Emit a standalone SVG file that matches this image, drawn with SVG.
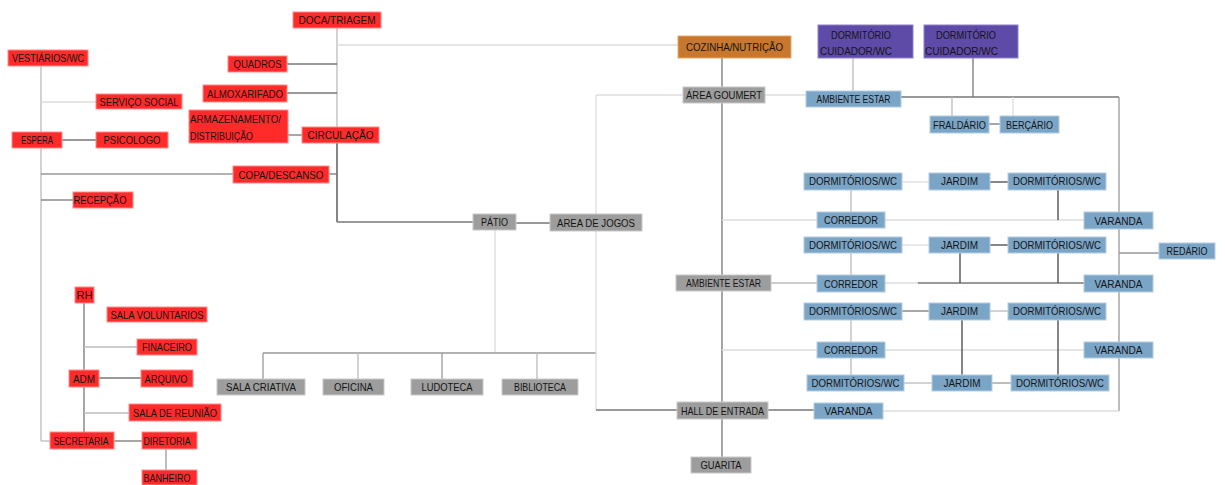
<svg xmlns="http://www.w3.org/2000/svg" width="1225" height="485" viewBox="0 0 1225 485">
<style>
text{font-family:"Liberation Sans",Arial,sans-serif;font-size:11px;fill:#141414;text-anchor:middle}
text.l{text-anchor:start}
.r{fill:#ff2b2b;stroke:#ff8c8c;stroke-width:1}
.g{fill:#9d9d9d;stroke:#c9c9c9;stroke-width:1}
.b{fill:#7ba5c7;stroke:#b3cde2;stroke-width:1}
.p{fill:#5e4ba8;stroke:#8e80cc;stroke-width:1}
.o{fill:#c8782e;stroke:#e6a868;stroke-width:1}
#connectors line{stroke-width:1.3;fill:none}
.k1{stroke:#444}
.k2{stroke:#777}
.k3{stroke:#999}
.k4{stroke:#bbb}
.k5{stroke:#dcdcdc}
</style>
<rect width="1225" height="485" fill="#ffffff"/>
<g id="connectors">
<line class="k4" x1="41" y1="66" x2="41" y2="441"/>
<line class="k4" x1="41" y1="441" x2="50" y2="441"/>
<line class="k5" x1="41" y1="102" x2="96" y2="102"/>
<line class="k2" x1="62" y1="140" x2="96" y2="140"/>
<line class="k3" x1="41" y1="174" x2="233" y2="174"/>
<line class="k2" x1="41" y1="200" x2="73" y2="200"/>
<line class="k2" x1="84" y1="303" x2="84" y2="432"/>
<line class="k4" x1="84" y1="347" x2="137" y2="347"/>
<line class="k2" x1="99" y1="378" x2="141" y2="378"/>
<line class="k4" x1="84" y1="413" x2="129" y2="413"/>
<line class="k2" x1="114" y1="441" x2="142" y2="441"/>
<line class="k3" x1="166" y1="449" x2="166" y2="470"/>
<line class="k4" x1="337" y1="28" x2="337" y2="127"/>
<line class="k1" x1="337" y1="143" x2="337" y2="222"/>
<line class="k5" x1="337" y1="45" x2="678" y2="45"/>
<line class="k2" x1="287" y1="64" x2="337" y2="64"/>
<line class="k2" x1="287" y1="93" x2="337" y2="93"/>
<line class="k2" x1="288" y1="135" x2="302" y2="135"/>
<line class="k2" x1="329" y1="174" x2="337" y2="174"/>
<line class="k2" x1="337" y1="222" x2="473" y2="222"/>
<line class="k2" x1="516" y1="223" x2="550" y2="223"/>
<line class="k5" x1="495" y1="230" x2="495" y2="353"/>
<line class="k3" x1="263" y1="353" x2="596" y2="353"/>
<line class="k3" x1="263" y1="353" x2="263" y2="379"/>
<line class="k4" x1="358" y1="353" x2="358" y2="379"/>
<line class="k3" x1="442" y1="353" x2="442" y2="379"/>
<line class="k4" x1="537" y1="353" x2="537" y2="379"/>
<line class="k5" x1="596" y1="95" x2="596" y2="410"/>
<line class="k5" x1="596" y1="95" x2="683" y2="95"/>
<line class="k2" x1="596" y1="410" x2="677" y2="410"/>
<line class="k2" x1="722" y1="58" x2="722" y2="457"/>
<line class="k5" x1="765" y1="95" x2="806" y2="95"/>
<line class="k4" x1="771" y1="283" x2="817" y2="283"/>
<line class="k5" x1="722" y1="220" x2="817" y2="220"/>
<line class="k5" x1="722" y1="350" x2="817" y2="350"/>
<line class="k2" x1="768" y1="410" x2="814" y2="410"/>
<line class="k4" x1="853" y1="58" x2="853" y2="91"/>
<line class="k2" x1="973" y1="58" x2="973" y2="97"/>
<line class="k2" x1="901" y1="97" x2="1119" y2="97"/>
<line class="k3" x1="1119" y1="97" x2="1119" y2="411"/>
<line class="k4" x1="952" y1="97" x2="952" y2="116"/>
<line class="k5" x1="1013" y1="97" x2="1013" y2="116"/>
<line class="k2" x1="989" y1="124" x2="1000" y2="124"/>
<line class="k5" x1="902" y1="182" x2="929" y2="182"/>
<line class="k1" x1="990" y1="182" x2="1008" y2="182"/>
<line class="k4" x1="851" y1="190" x2="851" y2="212"/>
<line class="k5" x1="885" y1="220" x2="1084" y2="220"/>
<line class="k1" x1="1058" y1="190" x2="1058" y2="220"/>
<line class="k5" x1="902" y1="245" x2="929" y2="245"/>
<line class="k1" x1="990" y1="245" x2="1008" y2="245"/>
<line class="k4" x1="851" y1="253" x2="851" y2="275"/>
<line class="k5" x1="885" y1="283" x2="918" y2="283"/>
<line class="k2" x1="918" y1="283" x2="1084" y2="283"/>
<line class="k1" x1="960" y1="253" x2="960" y2="283"/>
<line class="k1" x1="1058" y1="253" x2="1058" y2="283"/>
<line class="k3" x1="1119" y1="253" x2="1159" y2="253"/>
<line class="k2" x1="902" y1="311" x2="929" y2="311"/>
<line class="k4" x1="990" y1="311" x2="1008" y2="311"/>
<line class="k4" x1="851" y1="320" x2="851" y2="375"/>
<line class="k5" x1="885" y1="350" x2="1084" y2="350"/>
<line class="k1" x1="962" y1="320" x2="962" y2="375"/>
<line class="k1" x1="1058" y1="320" x2="1058" y2="375"/>
<line class="k4" x1="904" y1="383" x2="932" y2="383"/>
<line class="k3" x1="992" y1="383" x2="1011" y2="383"/>
<line class="k5" x1="883" y1="411" x2="1119" y2="411"/>
</g>
<g id="n-vestiarios"><rect class="r" x="8" y="50" width="80" height="16"/><text x="48" y="62" textLength="72" lengthAdjust="spacingAndGlyphs">VESTIÁRIOS/WC</text></g>
<g id="n-servico-social"><rect class="r" x="96" y="94" width="86" height="15"/><text x="139" y="105.5" textLength="79" lengthAdjust="spacingAndGlyphs">SERVIÇO SOCIAL</text></g>
<g id="n-espera"><rect class="r" x="12" y="132" width="50" height="16"/><text x="37" y="144" textLength="32" lengthAdjust="spacingAndGlyphs">ESPERA</text></g>
<g id="n-psicologo"><rect class="r" x="96" y="132" width="72" height="16"/><text x="132" y="144" textLength="57" lengthAdjust="spacingAndGlyphs">PSICOLOGO</text></g>
<g id="n-recepcao"><rect class="r" x="73" y="192" width="60" height="16"/><text x="100" y="204" textLength="53" lengthAdjust="spacingAndGlyphs">RECEPÇÃO</text></g>
<g id="n-rh"><rect class="r" x="75" y="287" width="19" height="16"/><text x="84.5" y="299" textLength="16" lengthAdjust="spacingAndGlyphs">RH</text></g>
<g id="n-sala-voluntarios"><rect class="r" x="107" y="307" width="100" height="15"/><text x="157" y="318.5" textLength="93" lengthAdjust="spacingAndGlyphs">SALA VOLUNTARIOS</text></g>
<g id="n-finaceiro"><rect class="r" x="137" y="339" width="60" height="16"/><text x="167" y="351" textLength="50" lengthAdjust="spacingAndGlyphs">FINACEIRO</text></g>
<g id="n-adm"><rect class="r" x="69" y="370" width="30" height="17"/><text x="84" y="382.5" textLength="22" lengthAdjust="spacingAndGlyphs">ADM</text></g>
<g id="n-arquivo"><rect class="r" x="141" y="370" width="52" height="17"/><text x="166" y="382.5" textLength="43" lengthAdjust="spacingAndGlyphs">ARQUIVO</text></g>
<g id="n-sala-reuniao"><rect class="r" x="129" y="404" width="92" height="17"/><text x="175" y="416.5" textLength="84" lengthAdjust="spacingAndGlyphs">SALA DE REUNIÃO</text></g>
<g id="n-secretaria"><rect class="r" x="50" y="432" width="64" height="17"/><text x="81" y="444.5" textLength="55" lengthAdjust="spacingAndGlyphs">SECRETARIA</text></g>
<g id="n-diretoria"><rect class="r" x="142" y="432" width="55" height="17"/><text x="167" y="444.5" textLength="47" lengthAdjust="spacingAndGlyphs">DIRETORIA</text></g>
<g id="n-banheiro"><rect class="r" x="142" y="470" width="55" height="15"/><text x="167" y="481.5" textLength="47" lengthAdjust="spacingAndGlyphs">BANHEIRO</text></g>
<g id="n-doca"><rect class="r" x="293" y="12" width="88" height="16"/><text x="337" y="24" textLength="77" lengthAdjust="spacingAndGlyphs">DOCA/TRIAGEM</text></g>
<g id="n-quadros"><rect class="r" x="228" y="56" width="59" height="16"/><text x="257.5" y="68" textLength="48" lengthAdjust="spacingAndGlyphs">QUADROS</text></g>
<g id="n-almoxarifado"><rect class="r" x="203" y="85" width="84" height="17"/><text x="245" y="97.5" textLength="76" lengthAdjust="spacingAndGlyphs">ALMOXARIFADO</text></g>
<g id="n-armazenamento"><rect class="r" x="189" y="110" width="99" height="33"/><text class="l" x="190" y="123" textLength="91" lengthAdjust="spacingAndGlyphs">ARMAZENAMENTO/</text><text class="l" x="190" y="139.5" textLength="63" lengthAdjust="spacingAndGlyphs">DISTRIBUIÇÃO</text></g>
<g id="n-circulacao"><rect class="r" x="302" y="127" width="77" height="16"/><text x="340.5" y="139" textLength="66" lengthAdjust="spacingAndGlyphs">CIRCULAÇÃO</text></g>
<g id="n-copa"><rect class="r" x="233" y="166" width="96" height="17"/><text x="281" y="178.5" textLength="85" lengthAdjust="spacingAndGlyphs">COPA/DESCANSO</text></g>
<g id="n-patio"><rect class="g" x="473" y="214" width="43" height="16"/><text x="494.5" y="226" textLength="27" lengthAdjust="spacingAndGlyphs">PÁTIO</text></g>
<g id="n-area-jogos"><rect class="g" x="550" y="214" width="92" height="17"/><text x="596" y="226.5" textLength="78" lengthAdjust="spacingAndGlyphs">AREA DE JOGOS</text></g>
<g id="n-sala-criativa"><rect class="g" x="217" y="379" width="88" height="16"/><text x="261" y="391" textLength="70" lengthAdjust="spacingAndGlyphs">SALA CRIATIVA</text></g>
<g id="n-oficina"><rect class="g" x="323" y="379" width="61" height="16"/><text x="353.5" y="391" textLength="39" lengthAdjust="spacingAndGlyphs">OFICINA</text></g>
<g id="n-ludoteca"><rect class="g" x="411" y="379" width="72" height="16"/><text x="447" y="391" textLength="51" lengthAdjust="spacingAndGlyphs">LUDOTECA</text></g>
<g id="n-biblioteca"><rect class="g" x="502" y="379" width="76" height="16"/><text x="540" y="391" textLength="52" lengthAdjust="spacingAndGlyphs">BIBLIOTECA</text></g>
<g id="n-cozinha"><rect class="o" x="678" y="36" width="113" height="22"/><text x="734.5" y="51" textLength="97" lengthAdjust="spacingAndGlyphs">COZINHA/NUTRIÇÃO</text></g>
<g id="n-area-goumert"><rect class="g" x="683" y="87" width="82" height="16"/><text x="724" y="99" textLength="76" lengthAdjust="spacingAndGlyphs">ÁREA GOUMERT</text></g>
<g id="n-ambiente-estar-1"><rect class="g" x="676" y="275" width="95" height="16"/><text x="723.5" y="287" textLength="75" lengthAdjust="spacingAndGlyphs">AMBIENTE ESTAR</text></g>
<g id="n-hall"><rect class="g" x="677" y="402" width="91" height="17"/><text x="722.5" y="414.5" textLength="83" lengthAdjust="spacingAndGlyphs">HALL DE ENTRADA</text></g>
<g id="n-guarita"><rect class="g" x="691" y="457" width="60" height="16"/><text x="721" y="469" textLength="41" lengthAdjust="spacingAndGlyphs">GUARITA</text></g>
<g id="n-cuidador-1"><rect class="p" x="818" y="25" width="95" height="33"/><text class="l" x="831" y="38.5" textLength="60" lengthAdjust="spacingAndGlyphs">DORMITÓRIO</text><text class="l" x="820" y="55" textLength="72" lengthAdjust="spacingAndGlyphs">CUIDADOR/WC</text></g>
<g id="n-cuidador-2"><rect class="p" x="924" y="25" width="94" height="33"/><text class="l" x="936" y="38.5" textLength="60" lengthAdjust="spacingAndGlyphs">DORMITÓRIO</text><text class="l" x="925" y="55" textLength="73" lengthAdjust="spacingAndGlyphs">CUIDADOR/WC</text></g>
<g id="n-ambiente-estar-2"><rect class="b" x="806" y="91" width="95" height="16"/><text x="853.5" y="103" textLength="74" lengthAdjust="spacingAndGlyphs">AMBIENTE ESTAR</text></g>
<g id="n-fraldario"><rect class="b" x="930" y="116" width="59" height="17"/><text x="959.5" y="128.5" textLength="53" lengthAdjust="spacingAndGlyphs">FRALDÁRIO</text></g>
<g id="n-bercario"><rect class="b" x="1000" y="116" width="59" height="17"/><text x="1029.5" y="128.5" textLength="47" lengthAdjust="spacingAndGlyphs">BERÇÁRIO</text></g>
<g id="n-dorm-1a"><rect class="b" x="804" y="173" width="98" height="17"/><text x="853" y="185" textLength="88" lengthAdjust="spacingAndGlyphs">DORMITÓRIOS/WC</text></g>
<g id="n-jardim-1"><rect class="b" x="929" y="173" width="61" height="17"/><text x="959.5" y="185" textLength="37" lengthAdjust="spacingAndGlyphs">JARDIM</text></g>
<g id="n-dorm-1b"><rect class="b" x="1008" y="173" width="98" height="17"/><text x="1057" y="185" textLength="88" lengthAdjust="spacingAndGlyphs">DORMITÓRIOS/WC</text></g>
<g id="n-corredor-1"><rect class="b" x="817" y="212" width="68" height="16"/><text x="851" y="224" textLength="54" lengthAdjust="spacingAndGlyphs">CORREDOR</text></g>
<g id="n-varanda-1"><rect class="b" x="1084" y="212" width="69" height="17"/><text x="1118.5" y="224.5" textLength="48" lengthAdjust="spacingAndGlyphs">VARANDA</text></g>
<g id="n-dorm-2a"><rect class="b" x="804" y="237" width="98" height="16"/><text x="853" y="249" textLength="88" lengthAdjust="spacingAndGlyphs">DORMITÓRIOS/WC</text></g>
<g id="n-jardim-2"><rect class="b" x="929" y="237" width="61" height="16"/><text x="959.5" y="249" textLength="37" lengthAdjust="spacingAndGlyphs">JARDIM</text></g>
<g id="n-dorm-2b"><rect class="b" x="1008" y="237" width="98" height="16"/><text x="1057" y="249" textLength="88" lengthAdjust="spacingAndGlyphs">DORMITÓRIOS/WC</text></g>
<g id="n-corredor-2"><rect class="b" x="817" y="275" width="68" height="17"/><text x="851" y="287.5" textLength="54" lengthAdjust="spacingAndGlyphs">CORREDOR</text></g>
<g id="n-varanda-2"><rect class="b" x="1084" y="275" width="69" height="17"/><text x="1118.5" y="287.5" textLength="48" lengthAdjust="spacingAndGlyphs">VARANDA</text></g>
<g id="n-redario"><rect class="b" x="1159" y="243" width="56" height="16"/><text x="1187" y="255" textLength="41" lengthAdjust="spacingAndGlyphs">REDÁRIO</text></g>
<g id="n-dorm-3a"><rect class="b" x="804" y="303" width="98" height="17"/><text x="853" y="315" textLength="88" lengthAdjust="spacingAndGlyphs">DORMITÓRIOS/WC</text></g>
<g id="n-jardim-3"><rect class="b" x="929" y="303" width="61" height="17"/><text x="959.5" y="315" textLength="37" lengthAdjust="spacingAndGlyphs">JARDIM</text></g>
<g id="n-dorm-3b"><rect class="b" x="1008" y="303" width="98" height="17"/><text x="1057" y="315" textLength="88" lengthAdjust="spacingAndGlyphs">DORMITÓRIOS/WC</text></g>
<g id="n-corredor-3"><rect class="b" x="817" y="342" width="68" height="16"/><text x="851" y="354" textLength="54" lengthAdjust="spacingAndGlyphs">CORREDOR</text></g>
<g id="n-varanda-3"><rect class="b" x="1084" y="342" width="69" height="16"/><text x="1118.5" y="354" textLength="48" lengthAdjust="spacingAndGlyphs">VARANDA</text></g>
<g id="n-dorm-4a"><rect class="b" x="807" y="375" width="97" height="16"/><text x="855.5" y="387" textLength="88" lengthAdjust="spacingAndGlyphs">DORMITÓRIOS/WC</text></g>
<g id="n-jardim-4"><rect class="b" x="932" y="375" width="60" height="16"/><text x="962" y="387" textLength="37" lengthAdjust="spacingAndGlyphs">JARDIM</text></g>
<g id="n-dorm-4b"><rect class="b" x="1011" y="375" width="98" height="16"/><text x="1060" y="387" textLength="88" lengthAdjust="spacingAndGlyphs">DORMITÓRIOS/WC</text></g>
<g id="n-varanda-4"><rect class="b" x="814" y="403" width="69" height="16"/><text x="848.5" y="415" textLength="48" lengthAdjust="spacingAndGlyphs">VARANDA</text></g>
</svg>
